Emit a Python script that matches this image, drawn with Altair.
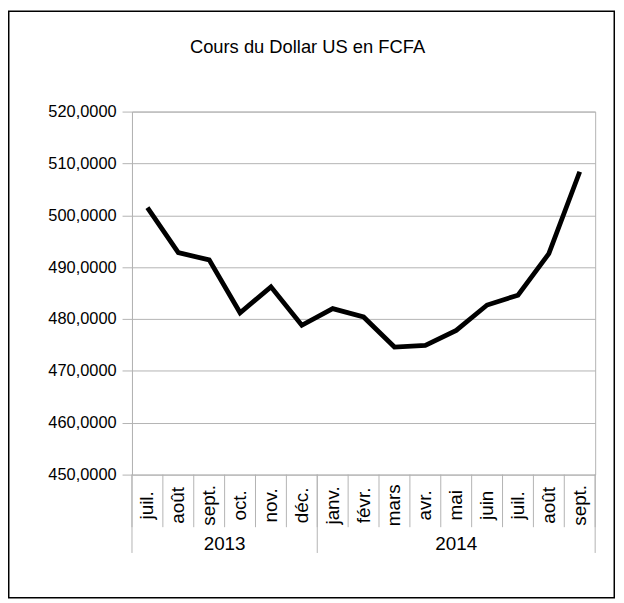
import altair as alt
import pandas as pd

# ---- data ----
months = ["juil.", "août", "sept.", "oct.", "nov.", "déc.",
          "janv.", "févr.", "mars", "avr.", "mai", "juin", "juil.", "août", "sept."]
years = ["2013"] * 6 + ["2014"] * 9
rates = [501.5, 492.8, 491.4, 481.2, 486.2, 478.8,
         482.0, 480.4, 474.6, 474.9, 477.8, 482.7, 484.6, 492.6, 508.4]
year_labels = ["2013", "2014"]
y_ticks = [450, 460, 470, 480, 490, 500, 510, 520]
title_text = "Cours du Dollar US en FCFA"

# ---- tables built from the lists ----
n = len(months)
df = pd.DataFrame({"month": months, "year": years, "rate": rates,
                   "pos": [i + 0.5 for i in range(n)]})
sep_df = pd.DataFrame({"pos": list(range(n + 1))})
counts = [years.count(y) for y in year_labels]
starts = [sum(counts[:k]) for k in range(len(counts))]
year_df = pd.DataFrame({"year": year_labels,
                        "pos": [s + c / 2 for s, c in zip(starts, counts)]})
ysep_df = pd.DataFrame({"pos": starts + [n]})
title_df = pd.DataFrame({"t": [title_text]})

W, H = 467, 366
GRID = "#b3b3b3"
FONT = "Liberation Sans"

xscale = alt.Scale(domain=[0, n], nice=False, zero=False)

line = alt.Chart(df).mark_line(color="black", strokeWidth=4.8, strokeJoin="miter").encode(
    x=alt.X("pos:Q", scale=xscale, axis=None),
    y=alt.Y("rate:Q", scale=alt.Scale(domain=[450, 520], nice=False, zero=False),
            axis=alt.Axis(values=y_ticks, title=None, grid=True, gridColor=GRID,
                          domainColor=GRID, tickColor=GRID, tickSize=10,
                          labelPadding=6, labelFont=FONT, labelFontSize=16.5,
                          labelColor="black",
                          labelExpr="replace(format(datum.value, '.4f'), '.', ',')"))
)

month_sep = alt.Chart(sep_df).mark_rule(color=GRID, strokeWidth=1).encode(
    x=alt.X("pos:Q", scale=xscale, axis=None),
    y=alt.value(H), y2=alt.value(H + 53))

year_sep = alt.Chart(ysep_df).mark_rule(color=GRID, strokeWidth=1).encode(
    x=alt.X("pos:Q", scale=xscale, axis=None),
    y=alt.value(H), y2=alt.value(H + 79))

month_text = alt.Chart(df).mark_text(angle=270, align="center", baseline="middle",
                                     font=FONT, fontSize=19, color="black").encode(
    x=alt.X("pos:Q", scale=xscale, axis=None),
    y=alt.value(H + 31), text="month:N")

year_text = alt.Chart(year_df).mark_text(align="center", baseline="middle",
                                         font=FONT, fontSize=19, color="black").encode(
    x=alt.X("pos:Q", scale=xscale, axis=None),
    y=alt.value(H + 70), text="year:N")

title = alt.Chart(title_df).mark_text(align="center", baseline="alphabetic",
                                      font=FONT, fontSize=18.5, color="black").encode(
    x=alt.value(177), y=alt.value(-59), text="t:N")

frame = alt.Chart(title_df).mark_rect(fillOpacity=0, stroke="black", strokeWidth=1.5).encode(
    x=alt.value(-124.25), x2=alt.value(486.25), y=alt.value(-101.25), y2=alt.value(490.25))

chart = alt.layer(frame, line, month_sep, year_sep, month_text, year_text, title).properties(
    width=W, height=H,
    autosize=alt.AutoSizeParams(type="none"),
    padding={"left": 125, "top": 102, "right": 21, "bottom": 126},
    background="white",
).configure_view(stroke=GRID, strokeWidth=1)

chart.save("out.html", embed_options={"renderer": "svg", "actions": False})
